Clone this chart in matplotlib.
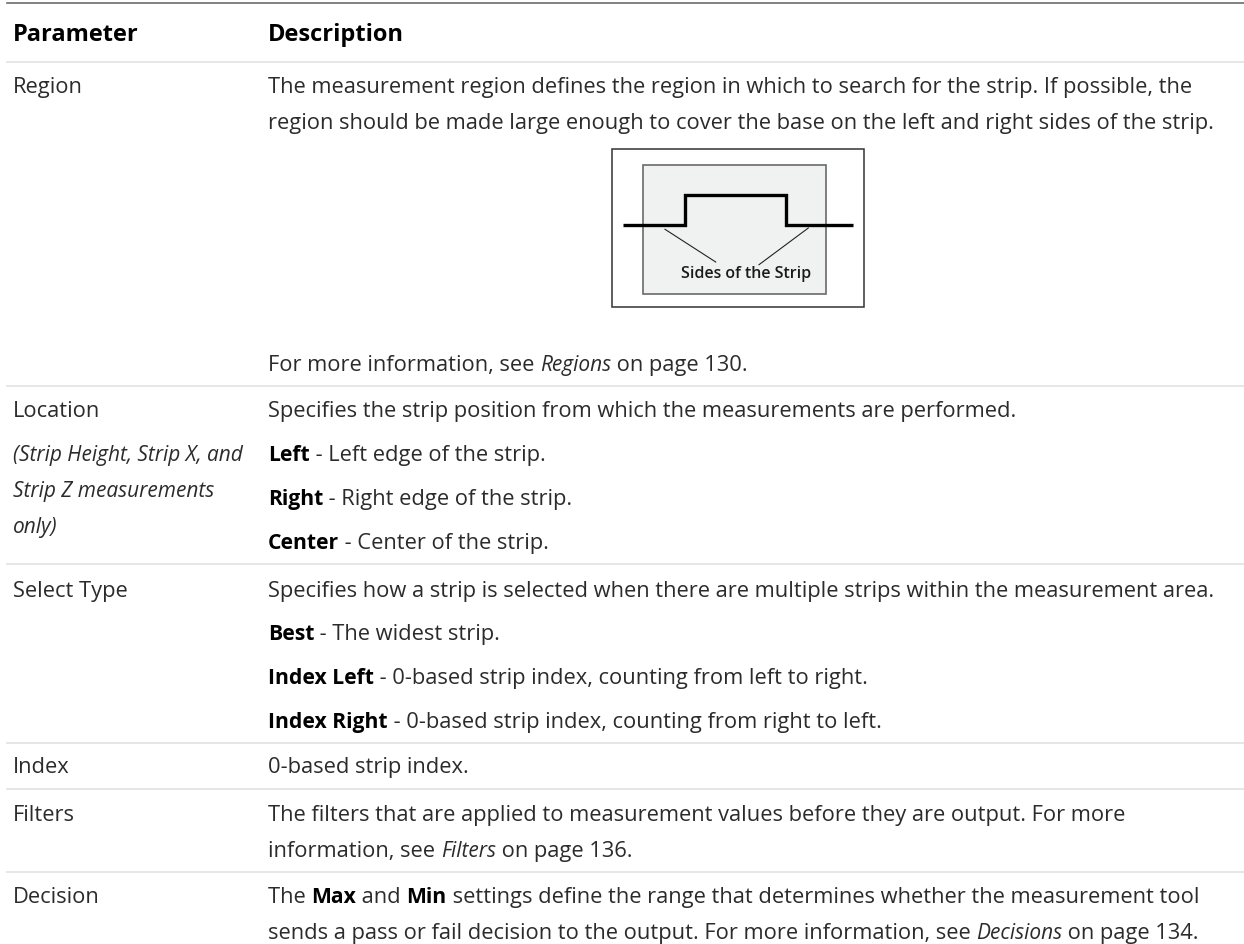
import matplotlib
matplotlib.use("Agg")
import matplotlib.pyplot as plt

plt.rcParams['font.family'] = ['Open Sans', 'DejaVu Sans']

headers = ['Parameter', 'Description']
param_names = ['Region', 'Location', 'Select Type', 'Index', 'Filters', 'Decision']
location_note = ['(Strip Height, Strip X, and', 'Strip Z measurements', 'only)']
diagram_label = 'Sides of the Strip'

# each line is a list of (text, style) runs
region_text = [
    [('The measurement region defines the region in which to search for the strip. If possible, the', 'n')],
    [('region should be made large enough to cover the base on the left and right sides of the strip.', 'n')],
]
region_more = [('For more information, see ', 'n'), ('Regions', 'i'), (' on page 130.', 'n')]
location_text = [
    [('Specifies the strip position from which the measurements are performed.', 'n')],
    [('Left', 'b'), (' - Left edge of the strip.', 'n')],
    [('Right', 'b'), (' - Right edge of the strip.', 'n')],
    [('Center', 'b'), (' - Center of the strip.', 'n')],
]
select_text = [
    [('Specifies how a strip is selected when there are multiple strips within the measurement area.', 'n')],
    [('Best', 'b'), (' - The widest strip.', 'n')],
    [('Index Left', 'b'), (' - 0-based strip index, counting from left to right.', 'n')],
    [('Index Right', 'b'), (' - 0-based strip index, counting from right to left.', 'n')],
]
index_text = [[('0-based strip index.', 'n')]]
filters_text = [
    [('The filters that are applied to measurement values before they are output. For more', 'n')],
    [('information, see ', 'n'), ('Filters', 'i'), (' on page 136.', 'n')],
]
decision_text = [
    [('The ', 'n'), ('Max', 'b'), (' and ', 'n'), ('Min', 'b'), (' settings define the range that determines whether the measurement tool', 'n')],
    [('sends a pass or fail decision to the output. For more information, see ', 'n'), ('Decisions', 'i'), (' on page 134.', 'n')],
]

FS = 15.75
SIZES = {'n': FS, 'b': 15.2, 'i': 15.0}
INK = '#2b2b2b'
X1 = 13
X2 = 268

fig = plt.figure(figsize=(12.44, 9.44), dpi=100)
ax = fig.add_axes([0, 0, 1, 1])
ax.set_xlim(0, 1244)
ax.set_ylim(944, 0)
ax.axis('off')


def draw_runs(x, y, runs):
    # put the runs one after the other, measuring each with the renderer
    r = fig.canvas.get_renderer()
    for s, style in runs:
        t = ax.text(x, y, s.replace(' ', '\u00a0'), fontsize=SIZES[style], va='baseline', ha='left',
                    color='black' if style == 'b' else INK,
                    fontweight='bold' if style == 'b' else 'normal',
                    fontstyle='italic' if style == 'i' else 'normal')
        x += t.get_window_extent(r).width


# table rules
ax.plot([7, 1244], [2.5, 2.5], color='#6b6b6b', lw=1.2)
for y in [61.5, 386, 564, 743, 789, 872]:
    ax.plot([7, 1244], [y, y], color='#e2e2e2', lw=1.2)

# header
ax.text(X1, 41, headers[0], fontsize=17, fontweight='bold', color='black')
ax.text(X2, 41, headers[1], fontsize=17, fontweight='bold', color='black')

# first column
for name, y in zip(param_names, [93, 417, 597, 773, 821, 903]):
    ax.text(X1, y, name, fontsize=FS, color=INK)
for s, y in zip(location_note, [461, 497, 533]):
    ax.text(X1, y, s, fontsize=SIZES['i'], color=INK, fontstyle='italic')

# second column
for runs, y in zip(region_text, [93, 129]):
    draw_runs(X2, y, runs)
draw_runs(X2, 371, region_more)
for runs, y in zip(location_text, [417, 461, 505, 549]):
    draw_runs(X2, y, runs)
for runs, y in zip(select_text, [597, 640, 684, 728]):
    draw_runs(X2, y, runs)
for runs, y in zip(index_text, [773]):
    draw_runs(X2, y, runs)
for runs, y in zip(filters_text, [821, 857]):
    draw_runs(X2, y, runs)
for runs, y in zip(decision_text, [903, 939]):
    draw_runs(X2, y, runs)

# strip diagram
ax.add_patch(plt.Rectangle((611.7, 148.7), 252.6, 158.2, fc='white', ec='#333333', lw=1.1))
ax.add_patch(plt.Rectangle((643, 164.7), 183, 129.3, fc='#f0f2f1', ec='#6a6a6a', lw=1.2))
ax.plot([623.3, 685, 685, 785.7, 785.7, 852.7], [225, 225, 195.3, 195.3, 225, 225], color='black', lw=2.4,
        solid_joinstyle='miter', solid_capstyle='butt')
ax.plot([665, 715.7], [229.3, 262], color='#222222', lw=0.8)
ax.plot([808.3, 759], [228, 264.7], color='#222222', lw=0.8)
ax.text(745.7, 278, diagram_label, fontsize=11.5, color='#1a1a1a', ha='center', va='baseline', fontweight='semibold')

fig.savefig('out.png', dpi=100)
